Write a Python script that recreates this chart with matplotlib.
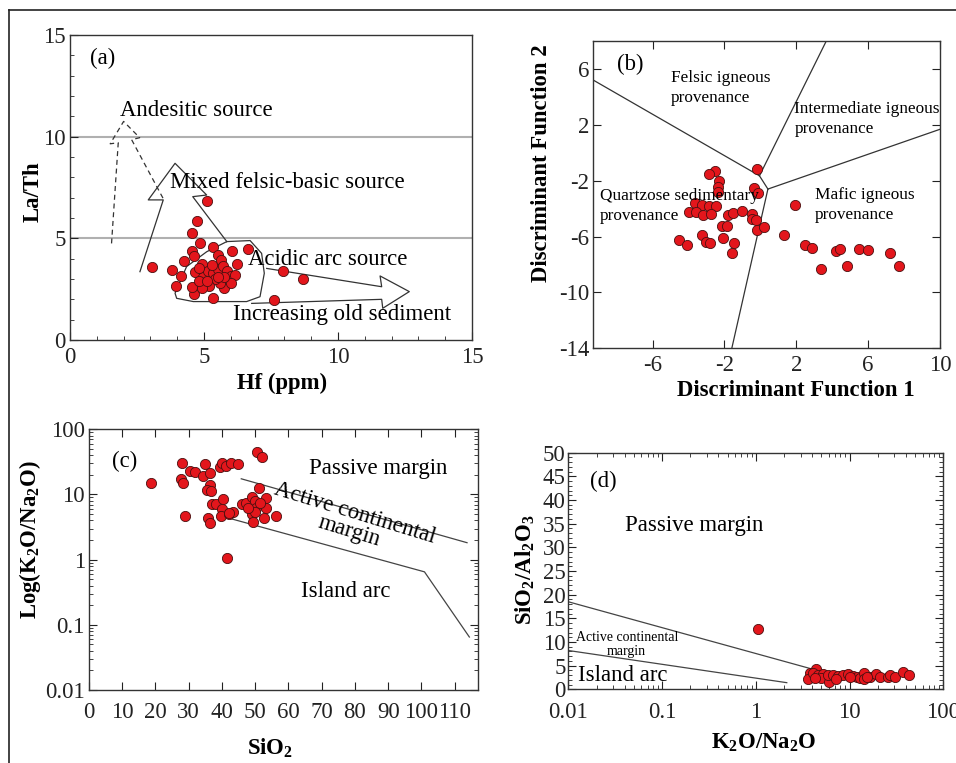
import numpy as np
import matplotlib
matplotlib.use("Agg")
import matplotlib.pyplot as plt
from matplotlib.ticker import MultipleLocator, FixedLocator, LogLocator, NullFormatter, FuncFormatter
from matplotlib.lines import Line2D

plt.rcParams['font.family'] = ['Liberation Serif', 'DejaVu Serif']
plt.rcParams['mathtext.fontset'] = 'custom'
plt.rcParams['mathtext.rm'] = 'Liberation Serif'
plt.rcParams['mathtext.bf'] = 'Liberation Serif:bold'
plt.rcParams['mathtext.it'] = 'Liberation Serif:italic'
plt.rcParams['axes.unicode_minus'] = False

## ---- panel (a): La/Th vs Hf ----
hf = [3.05, 3.79, 4.14, 3.96, 4.27, 4.54, 4.75, 5.10, 4.85, 5.35, 4.54, 4.64, 6.03, 6.65,
      5.53, 5.65, 6.24, 7.94, 8.68, 7.62, 5.35, 4.64, 4.54, 5.75,
      4.94, 4.68, 4.95, 5.15, 5.35, 5.53, 5.70, 5.85, 6.00, 6.16, 6.00, 5.60, 5.40, 5.20,
      4.92, 4.80, 5.10, 5.28, 5.73, 4.80, 5.52]
la_th = [3.61, 3.44, 3.15, 2.66, 3.89, 5.25, 5.85, 6.84, 4.79, 4.59, 4.39, 4.13, 4.39, 4.48,
         4.18, 3.93, 3.72, 3.39, 3.00, 1.97, 2.05, 2.25, 2.62, 2.57,
         3.72, 3.34, 3.10, 3.40, 3.30, 3.50, 3.62, 3.38, 3.15, 3.20, 2.82, 2.82, 3.00, 2.66,
         2.57, 2.92, 2.92, 3.70, 3.08, 3.52, 3.10]

# field outlines
andesitic_x = [1.55, 1.8, 1.5, 2.0, 2.6, 2.3, 3.5]
andesitic_y = [4.75, 9.7, 9.65, 10.75, 9.95, 9.85, 6.9]
mixed_x = [2.61, 3.48, 2.92, 3.92, 5.10, 4.58, 5.85]
mixed_y = [3.36, 6.89, 6.89, 8.69, 7.13, 7.05, 4.84]
acidic_x = [5.85, 6.72, 7.15, 7.25, 7.09, 6.59, 4.60, 3.98, 3.92, 4.35, 5.10, 5.85]
acidic_y = [4.84, 4.89, 4.26, 3.28, 2.13, 1.89, 1.89, 2.05, 2.30, 3.61, 4.34, 4.84]
old_x = [7.34, 11.63, 11.57, 12.66, 11.67, 11.63, 6.78]
old_y = [3.52, 2.62, 3.15, 2.38, 1.56, 2.00, 1.80]

## ---- panel (b): discriminant functions ----
df1 = [-0.18, -2.51, -2.84, -2.33, -2.38, -2.38, -0.36, -0.14, -3.62, -3.25, -2.84, -2.47,
       -3.96, -3.59, -3.17, -2.76, -1.79, -1.55, -1.03, -0.47, -0.47, -0.25, -2.13, -1.87,
       -0.18, 0.18, -4.52, -4.09, -3.25, -3.03, -2.79, -2.10, -1.44, -1.59, 1.31, 1.94,
       2.46, 2.89, 3.35, 4.23, 4.41, 4.82, 5.49, 5.99, 7.24, 7.72]
df2 = [-1.13, -1.29, -1.53, -2.00, -2.47, -2.83, -2.55, -2.88, -3.62, -3.72, -3.83, -3.83,
       -4.26, -4.26, -4.43, -4.38, -4.43, -4.33, -4.19, -4.38, -4.74, -4.81, -5.28, -5.28,
       -5.52, -5.33, -6.28, -6.64, -5.92, -6.40, -6.47, -6.11, -6.47, -7.16, -5.92, -3.73,
       -6.57, -6.80, -8.35, -7.04, -6.92, -8.11, -6.92, -6.97, -7.20, -8.11]
df_lines = [
    ([-9.3, -0.05], [5.2, -1.65]),
    ([3.67, -0.05], [8.0, -1.65]),
    ([-0.05, 0.42], [-1.65, -2.6]),
    ([0.42, 10.0], [-2.6, 1.68]),
    ([0.42, -1.59], [-2.6, -14.0]),
]

## ---- panel (c): K2O/Na2O vs SiO2 ----
sio2 = [18.6, 28.1, 27.6, 28.3, 28.8, 30.3, 31.8, 34.3, 35.0, 36.3, 36.5, 35.6, 36.8, 35.8,
        36.5, 37.1, 38.1, 39.3, 40.1, 41.3, 42.8, 44.8, 40.3, 40.1, 39.8, 42.1, 43.3, 41.6,
        46.1, 47.3, 48.9, 49.8, 50.3, 49.0, 49.3, 51.1, 52.5, 53.3, 53.3, 56.1, 50.5, 52.0,
        51.3, 49.8, 47.8, 42.0]
k2o_na2o_c = [14.9, 30.1, 17.3, 14.8, 4.7, 22.9, 21.9, 19.4, 28.9, 21.1, 14.0, 11.8, 11.3, 4.4,
              3.7, 7.1, 7.1, 26.8, 30.1, 27.5, 30.1, 29.4, 8.4, 5.9, 4.7, 5.0, 5.3, 1.05,
              7.1, 7.3, 9.1, 7.9, 6.3, 5.0, 3.8, 12.4, 4.3, 8.7, 6.3, 4.7, 45.3, 38.0,
              7.5, 5.3, 6.3, 5.2]
c_upper_x = [45.8, 113.7]
c_upper_y = [17.4, 1.82]
c_lower_x = [42.3, 100.9, 114.4]
c_lower_y = [4.3, 0.65, 0.065]

## ---- panel (d): SiO2/Al2O3 vs K2O/Na2O ----
k2o_na2o_d = [1.05, 4.38, 3.79, 3.63, 4.10, 4.64, 5.25, 5.00, 6.08, 5.90, 6.70, 7.60, 8.55,
              9.70, 11.0, 11.9, 12.9, 14.3, 14.3, 16.5, 19.1, 21.0, 25.9, 27.1, 30.5, 37.4,
              43.4, 4.30, 15.5, 10.2, 7.2]
sio2_al2o3 = [12.7, 4.2, 3.4, 2.1, 3.4, 3.0, 3.2, 2.3, 1.6, 3.0, 3.0, 2.8, 3.0,
              3.2, 2.8, 2.6, 2.3, 3.4, 2.1, 2.7, 3.2, 2.7, 2.7, 3.0, 2.6, 3.6,
              3.0, 2.3, 2.6, 2.7, 2.1]
d_upper_x = [0.01, 3.79]
d_upper_y = [18.5, 4.4]
d_lower_x = [0.01, 2.14]
d_lower_y = [8.2, 1.4]

W, H = 956, 763
fig = plt.figure(figsize=(W / 100, H / 100), dpi=100)


def box(left, right, top, bottom):
    return [left / W, (H - bottom) / H, (right - left) / W, (bottom - top) / H]


mk = dict(s=54, c='#e3161c', edgecolors='#4a1010', linewidths=0.6, zorder=5)
FS = 16.4       # main text size
tick_fs = 16.4


def style(ax, top=True, right=True, xpad=5):
    ax.tick_params(which='both', direction='in', top=top, right=right,
                   labelsize=tick_fs, colors='#222222')
    ax.tick_params(axis='x', pad=xpad)
    ax.tick_params(axis='y', pad=3)
    ax.tick_params(which='major', length=6, width=0.8)
    ax.tick_params(which='minor', length=3, width=0.6)
    for s in ax.spines.values():
        s.set_color('#333333')
        s.set_linewidth(1.0)


def labels(ax, xl, yl, xpos, ypos, bold=True):
    kw = dict(fontsize=FS)
    if bold:
        kw['fontweight'] = 'bold'
    ax.set_xlabel(xl, va='center', ha='center', **kw)
    ax.set_ylabel(yl, va='center', ha='center', rotation_mode='anchor', **kw)
    ax.xaxis.set_label_coords(*xpos)
    ax.yaxis.set_label_coords(*ypos)


# (a)
ax = fig.add_axes(box(70, 472, 35, 340))
ax.set_xlim(0, 15)
ax.set_ylim(0, 15)
ax.xaxis.set_major_locator(MultipleLocator(5))
ax.yaxis.set_major_locator(MultipleLocator(5))
ax.xaxis.set_minor_locator(MultipleLocator(1))
ax.yaxis.set_minor_locator(MultipleLocator(1))
style(ax, top=False, right=False, xpad=5)
ax.axhline(5, color='#b0b0b0', lw=1.5, zorder=1)
ax.axhline(10, color='#b0b0b0', lw=1.5, zorder=1)
ax.plot(andesitic_x, andesitic_y, color='#333333', lw=0.9, ls=(0, (4, 3)))
ax.plot(mixed_x, mixed_y, color='#333333', lw=0.9)
ax.plot(acidic_x, acidic_y, color='#333333', lw=0.9)
ax.plot(old_x, old_y, color='#333333', lw=0.9)
ax.scatter(hf, la_th, **mk)
ax.text(0.75, 13.85, '(a)', fontsize=FS, va='center')
ax.text(1.87, 11.3, 'Andesitic source', fontsize=FS, va='center', zorder=6)
ax.text(3.73, 7.74, 'Mixed felsic-basic source', fontsize=FS, va='center', zorder=6)
ax.text(6.65, 3.97, 'Acidic arc source', fontsize=FS, va='center', zorder=6)
ax.text(6.09, 1.26, 'Increasing old sediment', fontsize=FS, va='center', zorder=6)
labels(ax, 'Hf (ppm)', 'La/Th', (0.527, -0.141), (-0.092, 0.485))

# (b)
ax = fig.add_axes(box(593.3, 940, 41, 348.3))
ax.set_xlim(-9.3, 10)
ax.set_ylim(-14, 8)
ax.xaxis.set_major_locator(FixedLocator([-6, -2, 2, 6, 10]))
ax.yaxis.set_major_locator(FixedLocator([-14, -10, -6, -2, 2, 6]))
style(ax, xpad=5)
for lx, ly in df_lines:
    ax.plot(lx, ly, color='#333333', lw=0.9)
ax.scatter(df1, df2, **mk)
ax.text(-7.99, 6.3, '(b)', fontsize=FS, va='center')
ax.text(-4.98, 4.65, 'Felsic igneous\nprovenance', fontsize=12.4, va='center', linespacing=1.3)
ax.text(1.9, 2.4, 'Intermediate igneous\nprovenance', fontsize=12.4, va='center', linespacing=1.3,
        zorder=6)
ax.text(-8.92, -3.82, 'Quartzose sedimentary\nprovenance', fontsize=12.4, va='center',
        linespacing=1.3, zorder=6)
ax.text(3.02, -3.75, 'Mafic igneous\nprovenance', fontsize=12.4, va='center', linespacing=1.3)
labels(ax, 'Discriminant Function 1', 'Discriminant Function 2', (0.585, -0.136), (-0.149, 0.602))

# (c)
ax = fig.add_axes(box(89, 478, 429.3, 690))
ax.set_yscale('log')
ax.set_xlim(0, 117)
ax.set_ylim(0.01, 100)
ax.xaxis.set_major_locator(MultipleLocator(10))
ax.xaxis.set_major_formatter(FuncFormatter(lambda v, p: '%d' % v if v <= 110 else ''))
ax.yaxis.set_major_locator(LogLocator(base=10, numticks=10))
ax.yaxis.set_minor_locator(LogLocator(base=10, subs=np.arange(2, 10), numticks=20))
ax.yaxis.set_minor_formatter(NullFormatter())
ax.yaxis.set_major_formatter(FuncFormatter(lambda v, p: '%g' % v))
style(ax, xpad=9)
ax.plot(c_upper_x, c_upper_y, color='#444444', lw=0.9)
ax.plot(c_lower_x, c_lower_y, color='#444444', lw=0.9)
ax.scatter(sio2, k2o_na2o_c, **mk)
ax.text(6.8, 32.6, '(c)', fontsize=FS, va='center')
ax.text(66.2, 25, 'Passive margin', fontsize=FS, va='center')
ax.text(79, 3.7, 'Active continental\nmargin', fontsize=FS, ha='center', va='center',
        rotation=-17, linespacing=0.85, zorder=6)
ax.text(63.9, 0.32, 'Island arc', fontsize=FS, va='center')
labels(ax, r'$\mathbf{SiO_2}$', r'$\mathbf{Log(K_2O/Na_2O)}$', (0.465, -0.222), (-0.152, 0.575),
       bold=False)

# (d)
ax = fig.add_axes(box(568.3, 943.3, 452.7, 689.3))
ax.set_xscale('log')
ax.set_xlim(0.01, 100)
ax.set_ylim(0, 50)
ax.xaxis.set_major_locator(LogLocator(base=10, numticks=10))
ax.xaxis.set_minor_locator(LogLocator(base=10, subs=np.arange(2, 10), numticks=20))
ax.xaxis.set_minor_formatter(NullFormatter())
ax.xaxis.set_major_formatter(FuncFormatter(lambda v, p: '%g' % v))
ax.yaxis.set_major_locator(MultipleLocator(5))
ax.yaxis.set_minor_locator(MultipleLocator(1))
style(ax, xpad=9)
ax.tick_params(axis='y', pad=2)
ax.plot(d_upper_x, d_upper_y, color='#444444', lw=0.9)
ax.plot(d_lower_x, d_lower_y, color='#444444', lw=0.9)
ax.scatter(k2o_na2o_d, sio2_al2o3, **mk)
ax.text(0.017, 43.9, '(d)', fontsize=FS, va='center')
ax.text(0.0403, 34.7, 'Passive margin', fontsize=FS, va='center')
ax.text(0.042, 9.5, 'Active continental\nmargin', fontsize=10, ha='center', va='center',
        linespacing=1.1)
ax.text(0.0128, 3.0, 'Island arc', fontsize=FS, va='center')
labels(ax, r'$\mathbf{K_2O/Na_2O}$', r'$\mathbf{SiO_2/Al_2O_3}$', (0.52, -0.227), (-0.115, 0.504),
       bold=False)

# outer frame (left and top edges)
fig.add_artist(Line2D([9 / W, 9 / W], [0, (H - 10) / H], color='#222222', lw=1.2))
fig.add_artist(Line2D([9 / W, 1], [(H - 10) / H, (H - 10) / H], color='#222222', lw=1.2))

fig.savefig('out.png', dpi=100)
